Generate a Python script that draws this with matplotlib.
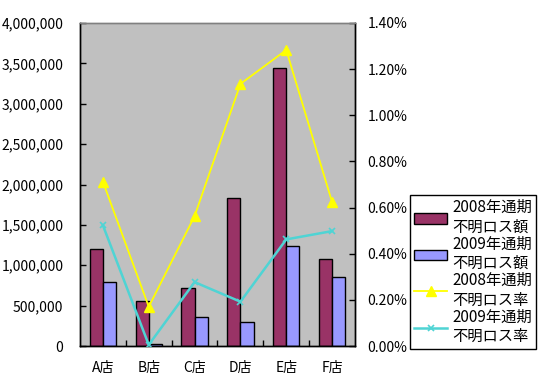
import matplotlib
matplotlib.use("Agg")
import matplotlib.pyplot as plt
import numpy as np
from matplotlib.ticker import FuncFormatter, MultipleLocator

plt.rcParams['font.family'] = ['Noto Sans CJK JP', 'DejaVu Sans']

categories = ['A店', 'B店', 'C店', 'D店', 'E店', 'F店']
loss_2008 = [1200000, 555000, 720000, 1830000, 3445000, 1075000]
loss_2009 = [790000, 20000, 356000, 294000, 1237000, 852000]
rate_2008 = [0.712, 0.170, 0.563, 1.136, 1.283, 0.624]
rate_2009 = [0.523, 0.005, 0.277, 0.192, 0.462, 0.498]
labels = ['2008年通期\n不明ロス額', '2009年通期\n不明ロス額',
          '2008年通期\n不明ロス率', '2009年通期\n不明ロス率']

fig = plt.figure(figsize=(5.4, 3.85), dpi=100)
fig.subplots_adjust(left=80/540, right=355/540, top=1-23/385, bottom=1-346/385)
ax = fig.add_subplot(111)
ax.set_facecolor('#C0C0C0')

x = np.arange(len(categories))
w = 1/3.5
b1 = ax.bar(x - w/2, loss_2008, w, color='#993366', edgecolor='black', linewidth=1, zorder=2)
b2 = ax.bar(x + w/2, loss_2009, w, color='#9999FF', edgecolor='black', linewidth=1, zorder=2)
ax.set_xlim(-0.5, len(categories) - 0.5)
ax.set_ylim(0, 4000000)
ax.yaxis.set_major_locator(MultipleLocator(500000))
ax.yaxis.set_major_formatter(FuncFormatter(lambda v, p: f'{int(v):,}'))
ax.set_xticks(x)
ax.set_xticklabels(categories)
ax.set_xticks(np.arange(0.5, len(categories) - 0.5, 1), minor=True)
ax.tick_params(axis='x', which='major', length=0, pad=11, labelsize=10)
ax.tick_params(axis='x', which='minor', direction='in', length=4, width=1)
ax.tick_params(axis='y', direction='in', length=4, width=1, pad=12, labelsize=10)

ax2 = ax.twinx()
l1, = ax2.plot(x, rate_2008, color='#FFFF00', linewidth=1.3, marker='^', markersize=7,
               markerfacecolor='#FFFF00', markeredgecolor='#FFFF00', zorder=3)
l2, = ax2.plot(x, rate_2009, color='#4FD4D4', linewidth=1.8, marker='x', markersize=5,
               markeredgecolor='#4FD4D4', markeredgewidth=1.2, zorder=3)
ax2.set_ylim(0, 1.4)
ax2.yaxis.set_major_locator(MultipleLocator(0.2))
ax2.yaxis.set_major_formatter(FuncFormatter(lambda v, p: f'{v:.2f}%'))
ax2.tick_params(axis='y', direction='in', length=4, width=1, pad=9, labelsize=10)

for a in (ax, ax2):
    for s in ('left', 'right', 'bottom'):
        a.spines[s].set_color('black')
        a.spines[s].set_linewidth(1)
    a.spines['top'].set_color('#808080')
    a.spines['top'].set_linewidth(1)

leg = fig.legend([b1, b2, l1, l2], labels, loc='upper left',
                 bbox_to_anchor=(410/540, 1-195/385), bbox_transform=fig.transFigure,
                 fancybox=False, edgecolor='black', framealpha=1, fontsize=11,
                 handlelength=2.2, handletextpad=0.3, labelspacing=0.0,
                 borderpad=0.25, borderaxespad=0)
leg.get_frame().set_linewidth(1)

fig.savefig('out.png', dpi=100)
